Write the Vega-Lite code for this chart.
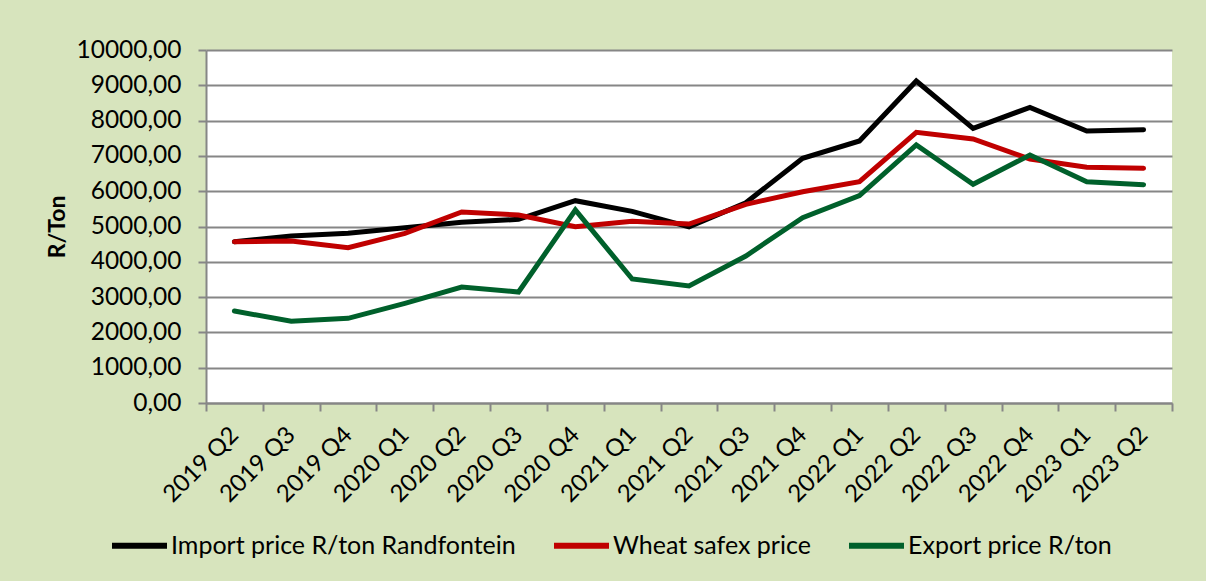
{
  "$schema": "https://vega.github.io/schema/vega-lite/v6.json",
  "width": 966,
  "height": 353,
  "autosize": {"type": "none"},
  "padding": {"left": 206, "top": 50, "right": 34, "bottom": 178},
  "background": "#D7E4BD",
  "config": {
    "font": "Lato",
    "view": {"fill": "#FFFFFF", "stroke": null}
  },
  "data": {
    "values": [
      {"q": "2019 Q2", "s": "Import price R/ton Randfontein", "v": 4570},
      {"q": "2019 Q3", "s": "Import price R/ton Randfontein", "v": 4730},
      {"q": "2019 Q4", "s": "Import price R/ton Randfontein", "v": 4807},
      {"q": "2020 Q1", "s": "Import price R/ton Randfontein", "v": 4967},
      {"q": "2020 Q2", "s": "Import price R/ton Randfontein", "v": 5118},
      {"q": "2020 Q3", "s": "Import price R/ton Randfontein", "v": 5203},
      {"q": "2020 Q4", "s": "Import price R/ton Randfontein", "v": 5731},
      {"q": "2021 Q1", "s": "Import price R/ton Randfontein", "v": 5430},
      {"q": "2021 Q2", "s": "Import price R/ton Randfontein", "v": 4990},
      {"q": "2021 Q3", "s": "Import price R/ton Randfontein", "v": 5674},
      {"q": "2021 Q4", "s": "Import price R/ton Randfontein", "v": 6931},
      {"q": "2022 Q1", "s": "Import price R/ton Randfontein", "v": 7422},
      {"q": "2022 Q2", "s": "Import price R/ton Randfontein", "v": 9122},
      {"q": "2022 Q3", "s": "Import price R/ton Randfontein", "v": 7781},
      {"q": "2022 Q4", "s": "Import price R/ton Randfontein", "v": 8376},
      {"q": "2023 Q1", "s": "Import price R/ton Randfontein", "v": 7705},
      {"q": "2023 Q2", "s": "Import price R/ton Randfontein", "v": 7742},
      {"q": "2019 Q2", "s": "Wheat safex price", "v": 4570},
      {"q": "2019 Q3", "s": "Wheat safex price", "v": 4589},
      {"q": "2019 Q4", "s": "Wheat safex price", "v": 4400},
      {"q": "2020 Q1", "s": "Wheat safex price", "v": 4807},
      {"q": "2020 Q2", "s": "Wheat safex price", "v": 5411},
      {"q": "2020 Q3", "s": "Wheat safex price", "v": 5326},
      {"q": "2020 Q4", "s": "Wheat safex price", "v": 4995},
      {"q": "2021 Q1", "s": "Wheat safex price", "v": 5147},
      {"q": "2021 Q2", "s": "Wheat safex price", "v": 5071},
      {"q": "2021 Q3", "s": "Wheat safex price", "v": 5629},
      {"q": "2021 Q4", "s": "Wheat safex price", "v": 5986},
      {"q": "2022 Q1", "s": "Wheat safex price", "v": 6269},
      {"q": "2022 Q2", "s": "Wheat safex price", "v": 7669},
      {"q": "2022 Q3", "s": "Wheat safex price", "v": 7479},
      {"q": "2022 Q4", "s": "Wheat safex price", "v": 6912},
      {"q": "2023 Q1", "s": "Wheat safex price", "v": 6676},
      {"q": "2023 Q2", "s": "Wheat safex price", "v": 6648},
      {"q": "2019 Q2", "s": "Export price R/ton", "v": 2606},
      {"q": "2019 Q3", "s": "Export price R/ton", "v": 2314},
      {"q": "2019 Q4", "s": "Export price R/ton", "v": 2399},
      {"q": "2020 Q1", "s": "Export price R/ton", "v": 2824},
      {"q": "2020 Q2", "s": "Export price R/ton", "v": 3286},
      {"q": "2020 Q3", "s": "Export price R/ton", "v": 3144},
      {"q": "2020 Q4", "s": "Export price R/ton", "v": 5467},
      {"q": "2021 Q1", "s": "Export price R/ton", "v": 3513},
      {"q": "2021 Q2", "s": "Export price R/ton", "v": 3314},
      {"q": "2021 Q3", "s": "Export price R/ton", "v": 4164},
      {"q": "2021 Q4", "s": "Export price R/ton", "v": 5250},
      {"q": "2022 Q1", "s": "Export price R/ton", "v": 5873},
      {"q": "2022 Q2", "s": "Export price R/ton", "v": 7309},
      {"q": "2022 Q3", "s": "Export price R/ton", "v": 6195},
      {"q": "2022 Q4", "s": "Export price R/ton", "v": 7025},
      {"q": "2023 Q1", "s": "Export price R/ton", "v": 6269},
      {"q": "2023 Q2", "s": "Export price R/ton", "v": 6184}
    ]
  },
  "mark": {"type": "line", "strokeWidth": 5, "strokeJoin": "miter", "strokeCap": "round"},
  "encoding": {
    "x": {
      "field": "q",
      "type": "ordinal",
      "sort": null,
      "bandPosition": 0.5,
      "scale": {"type": "band", "paddingInner": 0, "paddingOuter": 0},
      "axis": {
        "title": null,
        "labelAngle": -45,
        "labelAlign": "right",
        "labelBaseline": "middle",
        "labelFontSize": 24,
        "labelColor": "#000000",
        "labelPadding": 20,
        "tickBand": "extent",
        "domainColor": "#868686",
        "domainWidth": 2,
        "tickColor": "#868686",
        "tickWidth": 2,
        "tickSize": 8,
        "grid": false
      }
    },
    "y": {
      "field": "v",
      "type": "quantitative",
      "scale": {"domain": [0, 10000], "nice": false},
      "axis": {
        "title": "R/Ton",
        "titleFontSize": 23,
        "titleFontWeight": "bold",
        "titleColor": "#000000",
        "titlePadding": 6,
        "values": [0, 1000, 2000, 3000, 4000, 5000, 6000, 7000, 8000, 9000, 10000],
        "labelExpr": "replace(format(datum.value, '.2f'), '.', ',')",
        "labelFontSize": 24.5,
        "labelColor": "#000000",
        "labelPadding": 17,
        "domainColor": "#868686",
        "domainWidth": 2,
        "tickColor": "#868686",
        "tickWidth": 2,
        "tickSize": 8,
        "grid": true,
        "gridColor": "#868686",
        "gridWidth": 2
      }
    },
    "color": {
      "field": "s",
      "type": "nominal",
      "sort": ["Import price R/ton Randfontein", "Wheat safex price", "Export price R/ton"],
      "scale": {
        "domain": ["Import price R/ton Randfontein", "Wheat safex price", "Export price R/ton"],
        "range": ["#000000", "#C00000", "#00602B"]
      },
      "legend": {
        "title": null,
        "orient": "none",
        "direction": "horizontal",
        "legendX": -97,
        "legendY": 465,
        "symbolType": "stroke",
        "symbolSize": 3025,
        "symbolStrokeWidth": 6,
        "labelFontSize": 25,
        "labelColor": "#000000",
        "labelOffset": 1,
        "columnPadding": 26,
        "labelLimit": 500
      }
    },
    "order": {"field": "s"}
  }
}
